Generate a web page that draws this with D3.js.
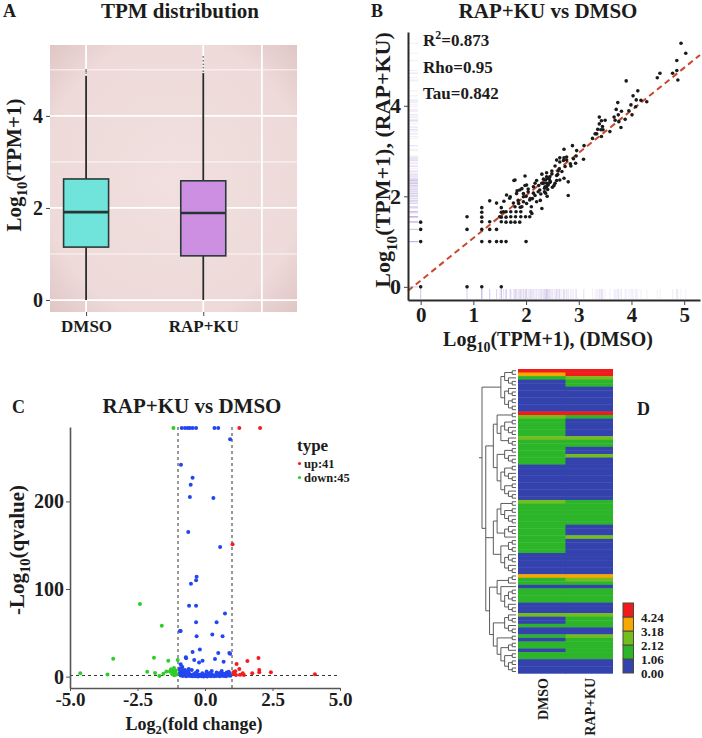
<!DOCTYPE html>
<html><head><meta charset="utf-8">
<script src="https://cdn.jsdelivr.net/npm/d3@7"></script>
<style>
body{margin:0;background:#fff}
text{font-family:"Liberation Serif","Times New Roman",serif;font-weight:bold;fill:#1c1c1c}
</style>
</head><body>
<svg id="c" width="702" height="738"></svg>
<script>
// ---------------- DATA ----------------
// Panel A: box plot of log10(TPM+1)
const boxCategories = ["DMSO", "RAP+KU"];
const boxQ1 = [1.15, 0.96];
const boxMedian = [1.91, 1.89];
const boxQ3 = [2.63, 2.59];
const boxWhiskerLow = [0, 0];
const boxWhiskerHigh = [4.87, 4.93];
const boxOutliers = [[4.93, 4.97, 5.0], [4.97, 5.05, 5.12, 5.2, 5.28]];
const boxYTicks = [0, 2, 4];
const boxGridMinor = [1, 3, 5];
const boxGridX = [1, 2, 2.5];

// Panel B: scatter log10(TPM+1) DMSO vs RAP+KU
const scatterXTicks = [0, 1, 2, 3, 4, 5];
const scatterYTicks = [0, 2, 4];
const fitIntercept = 0.14, fitSlope = 0.94;
const corrStats = [["R", "2", "=0.873"], ["Rho", "", "=0.95"], ["Tau", "", "=0.842"]];
const scatterPoints = [
 [0,1.43],[0,1.27],[0,1.0],[0,0],
 [0.88,1.55],[0.88,1.27],[0.88,0],
 [1.16,1.75],[1.16,1.65],[1.16,1.54],[1.16,1.44],[1.16,1.27],[1.16,1.0],[1.16,0],
 [1.31,1.90],[1.31,1.44],[1.31,1.27],[1.31,1.0],
 [1.44,1.85],[1.44,1.27],[1.44,1.0],
 [1.53,1.75],[1.53,1.65],[1.53,1.54],[1.53,1.44],[1.53,1.0],[1.53,0],
 [1.62,1.0],[1.62,1.43],[1.62,1.54],[1.71,1.43],[1.79,1.43],[1.88,1.43],[2.0,1.0],
 [1.58,1.89],[1.70,1.99],[1.77,2.35],[1.82,2.06],[1.85,1.91],[1.89,1.76],[1.92,2.17],[1.95,1.99],
 [1.98,2.24],[2.01,1.84],[2.04,2.10],[2.08,1.95],[2.11,1.62],[2.14,2.21],[2.17,2.02],[2.20,2.35],
 [2.23,2.10],[2.27,1.91],[2.30,1.73],[2.33,2.29],[2.36,2.21],[2.39,2.43],[2.46,2.32],[2.49,2.50],
 [2.53,2.24],[2.58,2.35],[2.63,2.61],[2.71,2.79],[2.77,2.87],[2.80,2.32],[2.84,2.72],[2.90,2.83],
 [2.96,3.01],[2.80,2.02],[1.79,2.36],[1.98,2.45],[1.63,2.03],[1.69,1.96],[1.76,1.85],[1.83,2.12],
 [1.86,1.84],[1.88,2.14],[1.92,1.77],[1.95,2.06],[2.01,2.25],[2.04,2.16],[2.07,1.92],[2.10,1.77],
 [2.14,2.07],[2.17,2.29],[2.20,1.88],[2.26,2.14],[2.33,2.38],[2.39,2.21],[2.45,2.43],[2.55,2.29],
 [2.64,2.36],[1.57,1.66],[1.50,1.55],[1.62,1.66],[1.71,1.66],[1.81,1.66],[1.90,1.66],[1.99,1.55],
 [2.09,1.66],[1.79,1.77],[1.71,1.55],[1.80,1.55],[1.90,1.55],[2.07,1.55],[1.95,1.88],[2.0,2.0],
 [2.12,1.95],[2.24,2.24],[2.28,2.05],[2.35,2.10],[2.42,2.25],[2.50,2.20],[2.44,2.38],[2.60,2.48],
 [2.68,2.55],[2.72,2.40],
 [4.94,5.38],[5.03,5.16],[4.86,5.0],[4.86,4.78],[4.78,4.72],[4.88,4.57],[4.54,4.72],[4.49,4.62],
 [3.90,4.55],[4.12,4.33],[4.03,4.22],[4.09,4.13],[4.18,4.12],[4.29,4.09],[3.74,4.07],[3.99,4.02],
 [4.08,3.98],[3.95,3.89],[3.81,3.88],[3.71,3.92],[3.75,3.80],[4.01,3.80],[3.67,3.75],[3.88,3.70],
 [3.39,3.75],[3.43,3.67],[3.50,3.68],[3.69,3.68],[3.76,3.65],[3.39,3.60],[3.45,3.54],[3.80,3.52],
 [3.36,3.48],[3.42,3.47],[3.46,3.47],[3.31,3.38],[3.34,3.38],[3.59,3.43],[3.26,3.28],[3.43,3.32],
 [3.10,3.12],[2.88,3.12],[2.72,3.04],[2.64,2.85],[2.72,2.85],[2.77,2.80],[2.95,2.89],[3.09,2.82],
 [2.94,2.73],[2.85,2.67],[2.74,2.66],[2.58,2.80],[2.64,2.76],[2.55,2.67],[2.61,2.56],[2.49,2.56],
 [2.39,2.52],[2.30,2.49],[2.58,2.46],[2.41,2.40],[2.46,2.32],[2.43,2.29],[2.39,2.29],[2.37,2.36],
 [2.30,2.29],[2.35,2.18],[2.41,2.15],[2.37,2.07],[2.40,2.0]
];

// Panel C: volcano plot (log2 fold change, -log10 qvalue)
const volcanoXTicks = [-5, -2.5, 0, 2.5, 5];
const volcanoYTicks = [0, 100, 200];
const foldThreshold = [-1, 1];
const qThreshold = 1.3;
const legendTypes = ["up:41", "down:45"];
const volcanoUp = [
 [1.05,4.9],[1.17,14.4],[1.27,8.7],[1.40,3.8],[1.44,1.9],[1.57,17.9],[1.75,3.8],[1.98,21.3],
 [2.01,7.6],[2.01,4.9],[2.44,4.9],[4.07,2.7],[1.15,1.9],[1.07,3.0],[1.27,284],[2.04,284],
 [1.02,151],[1.30,2.2],[1.12,6.0]
];
const volcanoDown = [
 [-4.62,3.8],[-3.61,2.3],[-3.40,20.5],[-2.41,83],[-2.14,5.5],[-1.89,21.5],[-1.85,4.2],[-1.69,0.8],
 [-1.60,58],[-1.54,3.2],[-1.43,5.7],[-1.36,18],[-1.30,5.7],[-1.26,8.5],[-1.17,6.2],[-1.15,9.8],
 [-1.14,1.5],[-1.01,19],[-1.11,4.4],[-1.17,284],[-1.05,2.5],[-1.22,3.0],[-1.08,7.0]
];
const volcanoNS = [
 [-0.86,284],[-0.74,284],[-0.64,284],[-0.56,284],[-0.46,284],[-0.33,284],[0.35,284],[0.49,284],
 [0.93,271],[-0.89,242],[-0.46,227],[-0.53,219],[-0.56,205],[0.31,204],[-0.62,165],[0.56,148],
 [-0.31,114],[-0.33,110],[-0.52,106],[-0.59,81],[-0.33,81],[0.74,72],[-0.33,62],[0.43,62],
 [-0.93,52],[-0.90,52],[-0.31,46],[0.27,48],[0.65,46],[-0.19,31],[-0.46,28],[0.90,27],[0.49,27],
 [-0.70,21],[0.37,20],[-0.40,19],[0.69,17],[-0.09,18],[-0.22,16],[-0.90,14],[-0.84,11],[-0.74,7.6],
 [-0.93,7.6],[-0.62,5.7],[-0.49,7.6],[-0.28,6.5],[0.06,5.7],[0.25,6.5],[0.43,4.6],[0.62,6.5],
 [0.80,4.6],[-0.71,22],[0.93,26],
 [-0.95,3.5],[-0.9,1.2],[-0.88,4.5],[-0.85,2.2],[-0.82,0.6],[-0.8,3.1],[-0.76,1.5],[-0.72,4.0],
 [-0.7,0.4],[-0.66,2.6],[-0.62,1.0],[-0.58,3.3],[-0.55,0.7],[-0.5,1.9],[-0.47,0.3],[-0.43,2.8],
 [-0.4,1.1],[-0.36,0.5],[-0.33,3.6],[-0.3,1.4],[-0.26,0.2],[-0.22,2.1],[-0.19,0.8],[-0.15,1.6],
 [-0.12,0.3],[-0.08,1.2],[-0.05,0.1],[-0.02,2.4],[0.02,0.6],[0.05,1.5],[0.08,0.2],[0.12,3.0],
 [0.15,0.9],[0.18,1.8],[0.22,0.4],[0.26,2.3],[0.3,1.0],[0.34,0.3],[0.38,1.7],[0.42,0.6],
 [0.46,2.9],[0.5,1.2],[0.54,0.5],[0.58,2.0],[0.62,1.1],[0.66,3.4],[0.7,0.7],[0.74,1.9],
 [0.78,0.4],[0.82,2.6],[0.86,1.3],[0.9,3.8],[0.94,0.9],[-0.92,9.5],[-0.86,8.3],[-0.8,5.2],
 [-0.9,6.0],[-0.68,5.0],[-0.6,8.8],[-0.35,4.2],[-0.1,3.9],[0.2,4.5],[0.55,4.0],[0.72,3.0],[0.88,5.5]
];

// Panel D: heatmap of 86 DEGs (log10 TPM+1)
const heatSamples = ["DMSO", "RAP+KU"];
const heatDMSO = [
 4.7,3.5,1.6,0.4,0.4, 0.3,0.3,0.3,0.3,0.3,0.3,0.3,
 4.5,2.5,1.7,1.7,1.7,1.7,1.7,2.3,1.6,1.6,
 1.5,1.5,1.8,1.6,1.6, 0.2,0.2,0.2,0.2,0.2,0.2,0.2,0.2,0.2,0.2,
 2.3,1.6,1.7,1.7,1.7,1.7,1.7,1.6,1.6,1.6,1.7,1.5,1.5,1.5,1.5,0.3,0.3,0.3,0.3,0.3,0.3,
 3.4,1.8,1.7,0.5,1.6,1.6,1.6,1.6,0.4,0.4,0.4,
 2.2,0.5,0.5,1.5,0.4,0.4,
 1.6,0.5,1.6,1.6,0.6,1.7,1.7,0.3,0.3,0.3,0.3
];
const heatRAP = [
 4.8,4.6,2.4,1.7,1.7, 0.3,0.3,0.3,0.3,0.3,0.3,0.3,
 4.6,1.8,0.5,0.5,0.5,0.5,0.5,2.3,1.7,1.7,
 0.6,0.6,2.2,0.5,0.5, 0.2,0.2,0.2,0.2,0.2,0.2,0.2,0.2,0.2,0.2,
 1.7,1.7,1.8,1.8,1.8,1.8,1.8,0.5,0.5,0.5,2.2,0.4,0.4,0.4,0.4,0.3,0.3,0.3,0.3,0.3,0.3,
 3.3,2.5,1.9,0.5,1.7,1.7,1.7,1.7,0.4,0.4,0.4,
 2.3,1.6,1.6,1.7,0.4,0.4,
 2.4,1.6,1.7,1.7,1.7,1.6,1.6,0.3,0.3,0.3,0.3
];
const heatBreaks = [1.06, 2.12, 3.18, 4.24];
const heatLegendTicks = [4.24, 3.18, 2.12, 1.06, 0.00];
// dendrogram cluster structure (numbers = sizes of leaf groups, in row order)
const dendroSpec = [
 [[[1,1],[1,2]],7],
 [
  [[[1,1],[5,[1,2]]], [[2,[1,2]],10]],
  [[[2,5],[3,1]],[4,6]],
  [[[[1,1],1],[1,[4,3]]], [[[1,2],[1,2]],[[1,1],[[2,1],[2,4]]]]]
 ]
];

// ---------------- DRAWING ----------------
const svg = d3.select("#c");
const ink = "#1c1c1c";
const defs = svg.append("defs");

function rich(sel, parts, size, subShift){
  let shift = 0;
  const ss = subShift || 0.3;
  parts.forEach(([t,k]) => {
    if (!t) return;
    const ts = sel.append("tspan").text(t);
    const target = k === "sub" ? size*ss : k === "sup" ? -size*0.42 : 0;
    if (target !== shift) ts.attr("dy", target - shift);
    shift = target;
    if (k) ts.attr("font-size", size*0.7);
  });
}
function txt(x, y, size, anchor){
  return svg.append("text").attr("x", x).attr("y", y).attr("font-size", size).attr("text-anchor", anchor || "start");
}
function vtxt(x, y, size, anchor){
  return svg.append("text").attr("transform", `translate(${x},${y}) rotate(-90)`).attr("font-size", size).attr("text-anchor", anchor || "middle");
}

// Panel labels & titles
txt(3, 17, 18).text("A");
txt(180, 18, 21, "middle").text("TPM distribution");
txt(371, 17, 18).text("B");
txt(548, 18, 21, "middle").text("RAP+KU vs DMSO");
txt(12, 413, 18).text("C");
txt(192, 413, 21, "middle").text("RAP+KU vs DMSO");
txt(637, 415, 18).text("D");

// ===== Panel A =====
(function(){
  const y = d3.scaleLinear().domain([-0.26, 5.54]).range([312, 45]);
  const x = d3.scaleLinear().domain([0.692, 2.80]).range([50, 297]);
  const g = svg.append("g");
  const grad = defs.append("radialGradient").attr("id","bgA").attr("cx","50%").attr("cy","50%").attr("r","75%");
  grad.append("stop").attr("offset","0%").attr("stop-color","#f1e0df");
  grad.append("stop").attr("offset","70%").attr("stop-color","#eddad9");
  grad.append("stop").attr("offset","100%").attr("stop-color","#dcc1bf");
  g.append("rect").attr("x", x.range()[0]).attr("y", y.range()[1])
    .attr("width", x.range()[1]-x.range()[0]).attr("height", y.range()[0]-y.range()[1]).attr("fill","url(#bgA)");
  g.selectAll(".gmin").data(boxGridMinor).join("line")
    .attr("x1", x.range()[0]).attr("x2", x.range()[1]).attr("y1", d=>y(d)).attr("y2", d=>y(d))
    .attr("stroke","#fff").attr("stroke-width",1).attr("opacity",0.8);
  g.selectAll(".gmaj").data(boxYTicks).join("line")
    .attr("x1", x.range()[0]).attr("x2", x.range()[1]).attr("y1", d=>y(d)).attr("y2", d=>y(d))
    .attr("stroke","#fff").attr("stroke-width",1.8);
  g.selectAll(".gx").data(boxGridX).join("line")
    .attr("y1", y.range()[0]).attr("y2", y.range()[1]).attr("x1", d=>x(d)).attr("x2", d=>x(d))
    .attr("stroke","#fff").attr("stroke-width",1.8);
  const fills = ["#70e4da", "#cd8fe2"];
  const halfW = (x(1.192) - x(1)) ;
  boxCategories.forEach((c,i) => {
    const cx = x(i+1);
    g.append("line").attr("x1",cx).attr("x2",cx).attr("y1",y(boxWhiskerLow[i])).attr("y2",y(boxWhiskerHigh[i]))
      .attr("stroke","#2a2a2a").attr("stroke-width",1.8);
    g.selectAll(null).data(boxOutliers[i]).join("circle").attr("cx",cx).attr("cy",d=>y(d)).attr("r",0.9).attr("fill","#777");
    g.append("rect").attr("x",cx-halfW).attr("width",2*halfW).attr("y",y(boxQ3[i])).attr("height",y(boxQ1[i])-y(boxQ3[i]))
      .attr("fill",fills[i]).attr("stroke","#2a3a3a").attr("stroke-width",1.6);
    g.append("line").attr("x1",cx-halfW).attr("x2",cx+halfW).attr("y1",y(boxMedian[i])).attr("y2",y(boxMedian[i]))
      .attr("stroke","#263535").attr("stroke-width",2.6);
  });
  const ay = g.append("g").attr("transform",`translate(${x.range()[0]},0)`)
    .call(d3.axisLeft(y).tickValues(boxYTicks).tickSize(4).tickPadding(3).tickFormat(d3.format("d")));
  ay.select(".domain").remove();
  ay.selectAll("line").attr("stroke","#444");
  ay.selectAll("text").attr("font-size",20).attr("fill",ink).attr("font-family",null);
  const ax = g.append("g").attr("transform",`translate(0,${y.range()[0]})`)
    .call(d3.axisBottom(x).tickValues([1,2]).tickSize(4).tickPadding(4).tickFormat((d,i)=>boxCategories[i]));
  ax.select(".domain").remove();
  ax.selectAll("line").attr("stroke","#444");
  ax.selectAll("text").attr("font-size",17).attr("fill",ink).attr("font-family",null);
  rich(vtxt(21, 165, 21), [["Log"],["10","sub"],["(TPM+1)"]], 21);
})();

// ===== Panel B =====
(function(){
  const x = d3.scaleLinear().domain([-0.24, 5.3]).range([408, 700]);
  const y = d3.scaleLinear().domain([-0.29, 5.63]).range([300, 32]);
  const g = svg.append("g");
  // rugs
  g.selectAll(".ry").data(scatterPoints).join("line")
    .attr("x1", 409).attr("x2", 418).attr("y1", d=>y(d[1])).attr("y2", d=>y(d[1]))
    .attr("stroke","#a58ad8").attr("stroke-width",1).attr("opacity",0.13);
  g.selectAll(".rx").data(scatterPoints).join("line")
    .attr("y1", 299).attr("y2", 289).attr("x1", d=>x(d[0])).attr("x2", d=>x(d[0]))
    .attr("stroke","#a58ad8").attr("stroke-width",1).attr("opacity",0.13);
  // fit line
  const xd = x.domain();
  g.append("line").attr("x1", x(xd[0])).attr("y1", y(fitIntercept + fitSlope*xd[0]))
    .attr("x2", x(xd[1])).attr("y2", y(fitIntercept + fitSlope*xd[1]))
    .attr("stroke","#c8482c").attr("stroke-width",2).attr("stroke-dasharray","6,4");
  g.selectAll(".pt").data(scatterPoints).join("circle")
    .attr("cx", d=>x(d[0])).attr("cy", d=>y(d[1])).attr("r",1.8).attr("fill","#1a1a1a");
  const ax = g.append("g").attr("transform","translate(0,300)")
    .call(d3.axisBottom(x).tickValues(scatterXTicks).tickSize(5).tickSizeOuter(0).tickPadding(2).tickFormat(d3.format("d")));
  ax.select(".domain").attr("stroke","#2a2a2a").attr("stroke-width",2);
  ax.selectAll("line").attr("stroke","#444");
  ax.selectAll("text").attr("font-size",21).attr("fill",ink).attr("font-family",null);
  const ay = g.append("g").attr("transform","translate(408,0)")
    .call(d3.axisLeft(y).tickValues(scatterYTicks).tickSize(4).tickSizeOuter(0).tickPadding(3).tickFormat(d3.format("d")));
  ay.select(".domain").attr("stroke","#2a2a2a").attr("stroke-width",2);
  ay.selectAll("line").attr("stroke","#444");
  ay.selectAll("text").attr("font-size",22).attr("fill",ink).attr("font-family",null);
  corrStats.forEach((s,i) => {
    const t = txt(423, 46 + i*26.5, 17);
    rich(t, [[s[0]],[s[1],"sup"],[s[2]]], 17);
  });
  rich(vtxt(390, 160, 22), [["Log"],["10","sub"],["(TPM+1), (RAP+KU)"]], 22);
  rich(txt(548, 346, 20, "middle"), [["Log"],["10","sub"],["(TPM+1), (DMSO)"]], 20);
})();

// ===== Panel C =====
(function(){
  const x = d3.scaleLinear().domain([-5, 5]).range([70, 340]);
  const y = d3.scaleLinear().domain([-13, 285]).range([688, 427]);
  const g = svg.append("g");
  const dash = "3,3";
  foldThreshold.forEach(v => g.append("line").attr("x1",x(v)).attr("x2",x(v)).attr("y1",y.range()[1]).attr("y2",y.range()[0])
    .attr("stroke","#333").attr("stroke-width",1).attr("stroke-dasharray",dash));
  g.append("line").attr("x1",x.range()[0]).attr("x2",x.range()[1]).attr("y1",y(qThreshold)).attr("y2",y(qThreshold))
    .attr("stroke","#333").attr("stroke-width",1).attr("stroke-dasharray",dash);
  const sets = [[volcanoNS,"#2346f0"],[volcanoDown,"#2fcc2a"],[volcanoUp,"#f21e1e"]];
  sets.forEach(([data,col]) => {
    g.selectAll(null).data(data).join("circle").attr("cx",d=>x(d[0])).attr("cy",d=>y(d[1])).attr("r",2).attr("fill",col);
  });
  const ax = g.append("g").attr("transform",`translate(0,${y.range()[0]})`)
    .call(d3.axisBottom(x).tickValues(volcanoXTicks).tickSize(3).tickSizeOuter(0).tickPadding(2).tickFormat(d3.format(".1f")));
  ax.select(".domain").attr("stroke","#555").attr("stroke-width",1.6);
  ax.selectAll("line").attr("stroke","#555");
  ax.selectAll("text").attr("font-size",19).attr("fill",ink).attr("font-family",null).text(d=>d3.format(".1f")(d).replace("−","-"));
  const ay = g.append("g").attr("transform",`translate(${x.range()[0]},0)`)
    .call(d3.axisLeft(y).tickValues(volcanoYTicks).tickSize(4).tickSizeOuter(0).tickPadding(2).tickFormat(d3.format("d")));
  ay.select(".domain").attr("stroke","#555").attr("stroke-width",1.6);
  ay.selectAll("line").attr("stroke","#555");
  ay.selectAll("text").attr("font-size",20).attr("fill",ink).attr("font-family",null);
  txt(297, 451, 17).text("type");
  const lc = ["#f21e1e","#2fcc2a"];
  legendTypes.forEach((t,i) => {
    g.append("circle").attr("cx",299.5).attr("cy",463.5+i*14).attr("r",1.6).attr("fill",lc[i]);
    txt(304, 467.5+i*14, 12.5).text(t);
  });
  rich(vtxt(24, 550, 21), [["-Log"],["10","sub"],["(qvalue)"]], 21);
  rich(txt(194, 730, 18, "middle"), [["Log"],["2","sub"],["(fold change)"]], 18, 0.22);
})();

// ===== Panel D =====
(function(){
  const n = heatDMSO.length;
  const y = d3.scaleBand().domain(d3.range(n)).range([369, 673.3]);
  const x = d3.scaleBand().domain(heatSamples).range([518, 613]);
  const color = d3.scaleThreshold().domain(heatBreaks).range(["#3342ad","#2db52a","#74bd1f","#f6a800","#f21a1a"]);
  const g = svg.append("g");
  const cols = [heatDMSO, heatRAP];
  heatSamples.forEach((s,j) => {
    g.selectAll(null).data(cols[j]).join("rect")
      .attr("x", x(s)).attr("width", x.bandwidth()+(j===0?0.6:0)).attr("y",(d,i)=>y(i)).attr("height", y.bandwidth()+0.4)
      .attr("fill", d=>color(d));
  });
  heatSamples.forEach(s => {
    vtxt(x(s)+x.bandwidth()/2+6, 678, 14, "end").text(s);
  });
  // legend
  const ly = d3.scaleLinear().domain([0, 5.30]).range([673, 603]);
  const edges = [0].concat(heatBreaks).concat([5.30]);
  for (let k=0; k<edges.length-1; k++){
    g.append("rect").attr("x",623).attr("width",10.5).attr("y",ly(edges[k+1])).attr("height",ly(edges[k])-ly(edges[k+1]))
      .attr("fill",color((edges[k]+edges[k+1])/2)).attr("stroke","#4a4a3a").attr("stroke-width",1);
  }
  heatLegendTicks.forEach(v => txt(641, ly(v)+4.5, 13).text(d3.format(".2f")(v)));
  // dendrogram
  function build(spec){
    if (typeof spec === "number"){
      if (spec === 1) return {};
      const a = Math.floor(spec/2);
      return {children:[build(a), build(spec-a)]};
    }
    return {children: spec.map(build)};
  }
  const root = d3.hierarchy(build(dendroSpec));
  root.leaves().forEach((l,i) => { l.py = y(i) + y.bandwidth()/2; });
  root.eachAfter(nd => { if (nd.children) nd.py = (nd.children[0].py + nd.children[nd.children.length-1].py)/2; });
  const dx = d3.scaleLinear().domain([0, root.height]).range([516, 482]);
  const lines = [];
  root.each(nd => {
    if (!nd.children) return;
    const xp = dx(nd.height);
    lines.push([xp, nd.children[0].py, xp, nd.children[nd.children.length-1].py]);
    nd.children.forEach(c => lines.push([xp, c.py, dx(c.height), c.py]));
  });
  lines.push([dx(root.height)-3, root.py, dx(root.height), root.py]);
  g.selectAll(".dl").data(lines).join("line")
    .attr("x1",d=>d[0]).attr("y1",d=>d[1]).attr("x2",d=>d[2]).attr("y2",d=>d[3])
    .attr("stroke","#4a4a4a").attr("stroke-width",0.9);
})();
</script>
</body></html>
